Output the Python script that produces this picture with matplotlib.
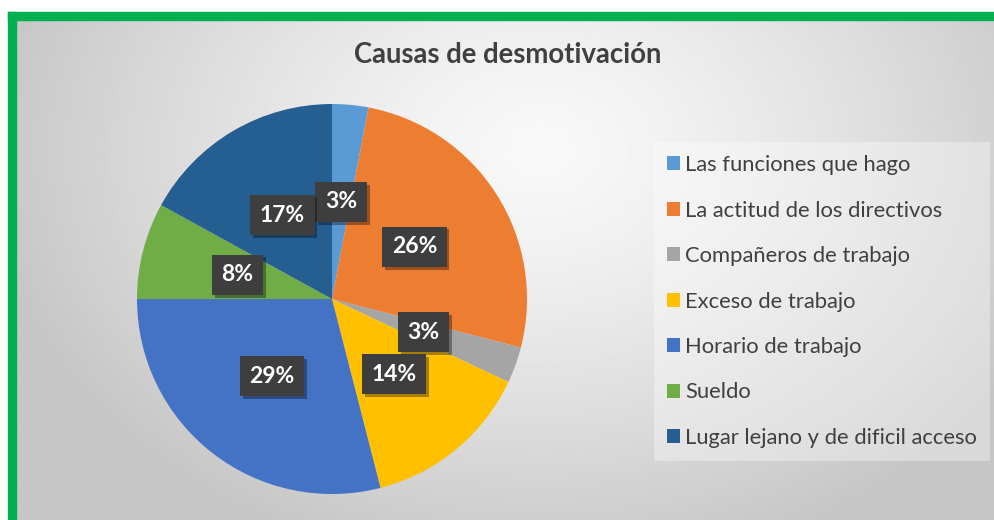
import matplotlib
matplotlib.use("Agg")
import matplotlib.pyplot as plt
import matplotlib.patheffects as pe
from matplotlib.patches import Rectangle
import numpy as np

# data
categories = [
    "Las funciones que hago",
    "La actitud de los directivos",
    "Compañeros de trabajo",
    "Exceso de trabajo",
    "Horario de trabajo",
    "Sueldo",
    "Lugar lejano y de dificil acceso",
]
percentages = [3, 26, 3, 14, 29, 8, 17]
slice_colors = ["#5B9BD5", "#ED7D31", "#A5A5A5", "#FFC000",
                "#4472C4", "#70AD47", "#255E91"]
title = "Causas de desmotivación"

W, H = 994, 520
TEXT = "#404040"
GREEN = "#00B050"

plt.rcParams["font.family"] = ["Lato", "DejaVu Sans"]

fig = plt.figure(figsize=(W / 100, H / 100), dpi=100, facecolor="white")

# gradient background inside the green frame
bg = fig.add_axes([16 / W, 0, 1 - 16 / W, (H - 20) / H], zorder=-5)
gx = np.linspace(16, W, 400)
gy = np.linspace(20, H, 220)
X, Y = np.meshgrid(gx, gy)
d = np.sqrt(((X - 540) / 560) ** 2 + ((Y - 150) / 430) ** 2)
d = np.clip(d, 0, 1)
shade = 0.975 - (0.975 - 0.775) * d ** 1.3
bg.imshow(shade, cmap="gray", vmin=0, vmax=1, aspect="auto",
          extent=[0, 1, 0, 1], origin="upper", interpolation="bilinear")
bg.set_axis_off()

# green frame (left and top)
fig.patches.append(Rectangle((8 / W, 0), 8 / W, (H - 12) / H,
                             transform=fig.transFigure, color=GREEN, zorder=-4))
fig.patches.append(Rectangle((8 / W, (H - 20) / H), 1 - 8 / W, 8 / H,
                             transform=fig.transFigure, color=GREEN, zorder=-4))

# pie
cx, cy, r = 332, 299, 195
ax = fig.add_axes([(cx - r) / W, (H - cy - r) / H, 2 * r / W, 2 * r / H])
wedges, texts, autotexts = ax.pie(
    percentages,
    colors=slice_colors,
    startangle=90,
    counterclock=False,
    autopct="%1.0f%%",
    pctdistance=0.5,
    wedgeprops={"linewidth": 0},
    textprops={"fontsize": 16.5, "fontweight": "bold", "color": "white"},
)
ax.set_xlim(-1, 1)
ax.set_ylim(-1, 1)
ax.set_aspect("equal")
ax.set_axis_off()

for t in autotexts:
    t.set_bbox(dict(boxstyle="square,pad=0.42", facecolor="#3E3E3E",
                    edgecolor="none"))
    t.get_bbox_patch().set_path_effects([
        pe.withSimplePatchShadow(offset=(2, -2), shadow_rgbFace="black", alpha=0.35),
        pe.Normal(),
    ])

fig.text(508 / W, 1 - 55 / H, title, ha="center", va="center",
         fontsize=19.8, fontweight="bold", color=TEXT)

leg = fig.legend(
    wedges, categories,
    loc="upper left",
    bbox_to_anchor=(654 / W, 1 - 142 / H),
    fontsize=15.8,
    frameon=True,
    fancybox=False,
    handlelength=0.6,
    handleheight=0.6,
    handletextpad=0.23,
    labelspacing=1.16,
    borderpad=0.6,
    borderaxespad=0,
)
frame = leg.get_frame()
frame.set_facecolor("white")
frame.set_alpha(0.35)
frame.set_edgecolor("none")
for txt in leg.get_texts():
    txt.set_color(TEXT)

fig.savefig("out.png", dpi=100, facecolor="white")
